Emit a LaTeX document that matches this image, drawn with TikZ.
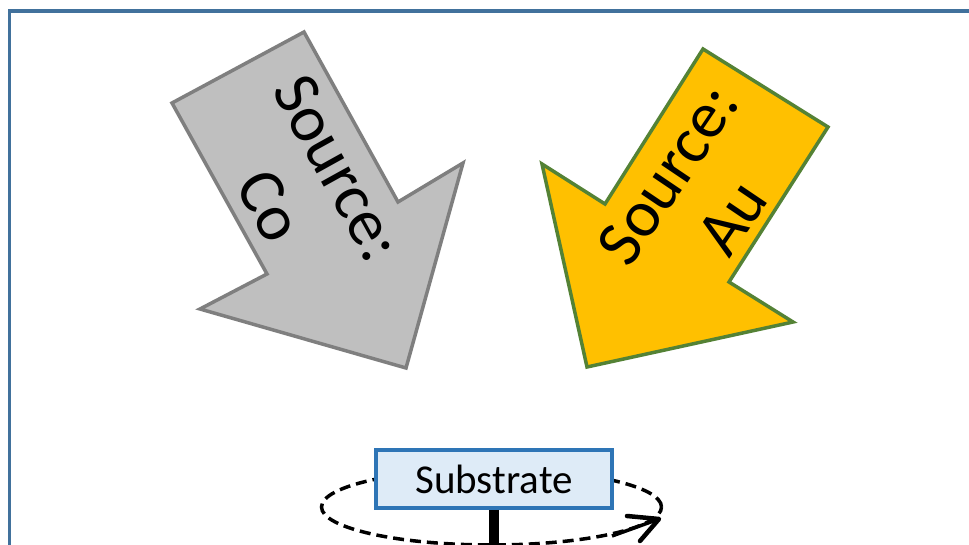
\documentclass[tikz,border=0pt]{standalone}
\usepackage{fontspec}
\setmainfont{Carlito}
\definecolor{framecol}{HTML}{41719C}
\definecolor{cofill}{HTML}{BFBFBF}
\definecolor{codraw}{HTML}{7F7F7F}
\definecolor{aufill}{HTML}{FFC000}
\definecolor{audraw}{HTML}{548235}
\definecolor{boxfill}{HTML}{DEEBF7}
\definecolor{boxdraw}{HTML}{2E75B6}
\tikzset{
  frameline/.style={draw=framecol, line width=3.5pt},
  coarrow/.style={fill=cofill, draw=codraw, line width=3.5pt, line join=miter},
  auarrow/.style={fill=aufill, draw=audraw, line width=3.5pt, line join=miter},
  srclabel/.style={align=center, font=\fontsize{66}{78}\selectfont, inner sep=0pt},
  subbox/.style={fill=boxfill, draw=boxdraw, line width=3.5pt, minimum width=236pt, minimum height=58pt, inner sep=0pt, font=\fontsize{41}{49}\selectfont},
  rotpath/.style={draw=black, line width=3.5pt, dash pattern=on 11pt off 6pt},
  tipline/.style={draw=black, line width=4.5pt, line cap=round, line join=round},
  stem/.style={draw=black, line width=10pt}
}
\begin{document}
\begin{tikzpicture}[x=1pt, y=-1pt]
\useasboundingbox (0,0) rectangle (969,545);
\clip (0,0) rectangle (969,545);
\fill[white] (0,0) rectangle (969,545);
\draw[frameline] (9.5,11) rectangle (985,547);
% Co source arrow
\draw[coarrow] (172,103) -- (304,32) -- (398,202) -- (463,163) -- (406,368) -- (200,309) -- (267,274) -- cycle;
\node[srclabel, rotate=-61] (co) at (304,187) {Source:\\Co};
% Au source arrow
\draw[auarrow] (703,49) -- (828,127) -- (729,282) -- (793,322) -- (587,367) -- (542,164) -- (605,204) -- cycle;
\node[srclabel, rotate=56] (au) at (700,196) {Source:\\Au};
% rotation ellipse
\draw[rotpath] (491.5,507) ellipse [x radius=170pt, y radius=38pt];
\coordinate (tip) at (659,519);
\draw[line width=3.5pt] (612,536) -- (tip);
\draw[tipline] (627,516) -- (tip) -- (640,541);
% substrate
\node[subbox] (sub) at (494,479) {Substrate};
\coordinate (stemend) at (494,560);
\draw[stem] (sub.south) -- (stemend);
\end{tikzpicture}
\end{document}
